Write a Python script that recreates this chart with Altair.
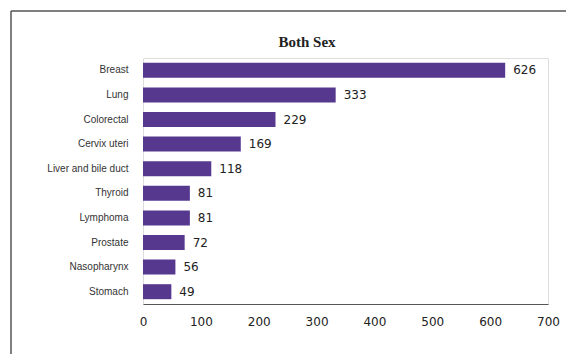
import altair as alt
import pandas as pd

title_text = ["Both Sex"]
sites = ["Breast", "Lung", "Colorectal", "Cervix uteri", "Liver and bile duct",
         "Thyroid", "Lymphoma", "Prostate", "Nasopharynx", "Stomach"]
cases = [626, 333, 229, 169, 118, 81, 81, 72, 56, 49]
x_ticks = [0, 100, 200, 300, 400, 500, 600, 700]

df = pd.DataFrame({"site": sites, "cases": cases})
tdf = pd.DataFrame({"t": title_text})

W, H = 405, 246

y_enc = alt.Y("site:N", sort=sites, title=None,
              scale=alt.Scale(paddingInner=0.4, paddingOuter=0.2),
              axis=alt.Axis(domain=False, ticks=False, labelPadding=15,
                            labelFont="Liberation Sans", labelFontSize=10,
                            labelColor="#333333"))
x_enc = alt.X("cases:Q", title=None,
              scale=alt.Scale(domain=[0, 700], nice=False),
              axis=alt.Axis(values=x_ticks, grid=False, ticks=False,
                            domain=True, domainColor="#555555", domainWidth=1.2,
                            labelFlush=False,
                            labelPadding=12, labelFont="DejaVu Sans",
                            labelFontSize=12, labelColor="#222222"))

bars = alt.Chart(df).mark_bar(color="#57388f", height=15).encode(x=x_enc, y=y_enc)

labels = alt.Chart(df).mark_text(align="left", baseline="middle", dx=8,
                                 font="DejaVu Sans", fontSize=12,
                                 color="#222222").encode(
    x="cases:Q", y=alt.Y("site:N", sort=sites), text="cases:Q")

title = alt.Chart(tdf).mark_text(align="center", baseline="alphabetic",
                                 font="Liberation Serif", fontSize=15,
                                 fontWeight="bold", color="#222222").encode(
    x=alt.value(164), y=alt.value(-11), text="t:N")

frame_top = alt.Chart(tdf).mark_rule(color="#555555", strokeWidth=1.5).encode(
    x=alt.value(-132), x2=alt.value(440), y=alt.value(-47))
frame_left = alt.Chart(tdf).mark_rule(color="#555555", strokeWidth=1.5).encode(
    x=alt.value(-132), y=alt.value(-47), y2=alt.value(300))

chart = alt.layer(frame_top, frame_left, bars, labels, title).properties(
    width=W, height=H,
    autosize=alt.AutoSizeParams(type="none"),
    padding={"left": 135, "top": 50, "right": 18, "bottom": 50},
).configure_view(stroke=None).configure(background="white")

chart.save("out.html", embed_options={"renderer": "svg", "actions": False})
